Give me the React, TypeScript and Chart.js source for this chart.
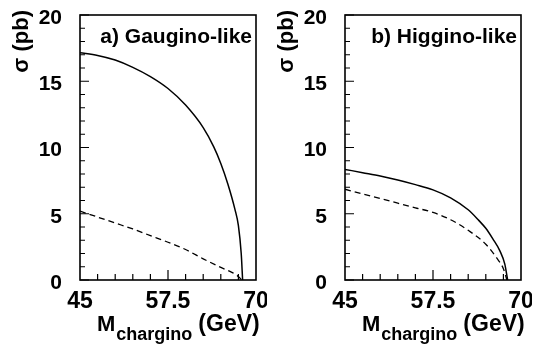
import React, { useEffect, useRef } from "react";
import { Chart, registerables } from "chart.js";
Chart.register(...registerables);

// ---- data ----
const massGaugino = [45, 47.5, 50, 52.5, 55, 57.5, 60, 62.5, 64, 65, 66, 67, 67.5, 67.9, 68.1];
const solidGaugino = [17.15, 16.95, 16.6, 16.05, 15.35, 14.45, 13.2, 11.5, 10.05, 8.8, 7.25, 5.35, 4.1, 2.0, 0];
const dashMassGaugino = [45, 47.5, 50, 52.5, 55, 57.5, 60, 62.5, 65, 66.5, 67.3, 68];
const dashedGaugino = [5.2, 4.75, 4.3, 3.85, 3.35, 2.85, 2.3, 1.6, 0.95, 0.6, 0.35, 0];

const massHiggino = [45, 47.5, 50, 52.5, 55, 57.5, 60, 62.5, 64, 65, 66, 67, 67.7, 68.1];
const solidHiggino = [8.35, 8.1, 7.85, 7.55, 7.2, 6.8, 6.2, 5.3, 4.5, 3.9, 3.1, 2.2, 1.2, 0];
const dashMassHiggino = [45, 47.5, 50, 52.5, 55, 57.5, 60, 62.5, 65, 66.5, 67.5, 68];
const dashedHiggino = [6.85, 6.5, 6.15, 5.8, 5.45, 5.1, 4.55, 3.75, 2.7, 1.7, 0.85, 0];

const xTickValues = [45, 57.5, 70];
const yTickStep = 5;
const panelLabels = ["a) Gaugino-like", "b) Higgino-like"];
const yTitle = "σ (pb)";
const xTitleMain = "M";
const xTitleSub = "chargino";
const xTitleUnit = "(GeV)";

const FONT = '"Liberation Sans", Arial, Helvetica, sans-serif';

const zip = (xs: number[], ys: number[]) => xs.map((x, i) => ({ x, y: ys[i] }));

const decor = {
  id: "decor",
  afterDraw(chart: any, _args: any, opts: any) {
    const { ctx, chartArea, scales } = chart;
    const { left, right, top, bottom } = chartArea;
    const x = scales.x;
    const y = scales.y;
    ctx.save();
    ctx.strokeStyle = "#000";
    ctx.fillStyle = "#000";
    ctx.lineWidth = 1.6;
    ctx.strokeRect(left, top, right - left, bottom - top);
    ctx.lineWidth = 1.2;
    ctx.beginPath();
    for (let v = 0; v <= 20; v++) {
      const py = y.getPixelForValue(v);
      const len = v % 5 === 0 ? 9 : 5;
      ctx.moveTo(left, py);
      ctx.lineTo(left + len, py);
    }
    for (let v = 47.5; v < 70; v += 2.5) {
      const px = x.getPixelForValue(v);
      const len = v === 57.5 ? 10 : 6;
      ctx.moveTo(px, bottom);
      ctx.lineTo(px, bottom - len);
    }
    ctx.stroke();

    // panel label
    ctx.font = `bold 21px ${FONT}`;
    ctx.textAlign = "right";
    ctx.textBaseline = "alphabetic";
    ctx.fillText(opts.label, right - 4, top + 28);

    // y-axis title (rotated, aligned to the top)
    ctx.save();
    ctx.translate(left - 58, top - 5);
    ctx.rotate(-Math.PI / 2);
    ctx.font = `bold 22px ${FONT}`;
    ctx.textAlign = "right";
    ctx.textBaseline = "middle";
    ctx.fillText(yTitle, 0, 0);
    ctx.restore();

    // x-axis title with subscript
    ctx.textAlign = "left";
    let cx = left + 17;
    const base = 331;
    ctx.font = `bold 22px ${FONT}`;
    ctx.fillText(xTitleMain, cx, base);
    cx += ctx.measureText(xTitleMain).width + 1;
    ctx.font = `bold 18px ${FONT}`;
    ctx.fillText(xTitleSub, cx, base + 9);
    cx += ctx.measureText(xTitleSub).width + 6;
    ctx.font = `bold 23px ${FONT}`;
    ctx.fillText(xTitleUnit, cx, base);
    ctx.restore();
  },
};

function Panel(props: {
  label: string;
  solid: { x: number; y: number }[];
  dashed: { x: number; y: number }[];
  left: number;
}) {
  const ref = useRef<HTMLCanvasElement>(null);
  useEffect(() => {
    if (!ref.current) return;
    const chart = new Chart(ref.current, {
      type: "line",
      data: {
        datasets: [
          {
            data: props.solid,
            borderColor: "#000",
            borderWidth: 1.5,
            pointRadius: 0,
            cubicInterpolationMode: "monotone",
            fill: false,
          },
          {
            data: props.dashed,
            borderColor: "#000",
            borderWidth: 1.3,
            borderDash: [6, 4],
            pointRadius: 0,
            cubicInterpolationMode: "monotone",
            fill: false,
          },
        ],
      },
      options: {
        responsive: false,
        animation: false,
        devicePixelRatio: 1,
        layout: { padding: { top: 15, right: 11, left: 0, bottom: 0 } },
        plugins: {
          legend: { display: false },
          tooltip: { enabled: false },
          decor: { label: props.label },
        } as any,
        scales: {
          x: {
            type: "linear",
            min: 45,
            max: 70,
            grid: { display: false, drawTicks: false },
            border: { display: false },
            afterBuildTicks: (s: any) => {
              s.ticks = xTickValues.map((v) => ({ value: v }));
            },
            afterFit: (s: any) => {
              s.height = 67;
              s.paddingLeft = 0;
              s.paddingRight = 0;
            },
            ticks: {
              autoSkip: false,
              maxRotation: 0,
              padding: 8,
              color: "#000",
              font: { family: FONT, size: 23, weight: "bold" },
              callback: (v: any) => String(v),
            },
          },
          y: {
            type: "linear",
            min: 0,
            max: 20,
            grid: { display: false, drawTicks: false },
            border: { display: false },
            afterFit: (s: any) => {
              s.width = 80;
              s.paddingTop = 0;
              s.paddingBottom = 0;
            },
            ticks: {
              stepSize: yTickStep,
              padding: 18,
              labelOffset: 3,
              color: "#000",
              font: { family: FONT, size: 21, weight: "bold" },
            },
          },
        },
      },
      plugins: [decor as any],
    });
    return () => chart.destroy();
  }, []);
  return (
    <canvas
      ref={ref}
      width={267}
      height={347}
      style={{ position: "absolute", left: props.left, top: 0, width: 267, height: 347 }}
    />
  );
}

export default function App() {
  return (
    <div style={{ position: "absolute", left: 0, top: 0, width: 534, height: 347, background: "#fff" }}>
      <Panel
        label={panelLabels[0]}
        solid={zip(massGaugino, solidGaugino)}
        dashed={zip(dashMassGaugino, dashedGaugino)}
        left={0}
      />
      <Panel
        label={panelLabels[1]}
        solid={zip(massHiggino, solidHiggino)}
        dashed={zip(dashMassHiggino, dashedHiggino)}
        left={265}
      />
    </div>
  );
}
